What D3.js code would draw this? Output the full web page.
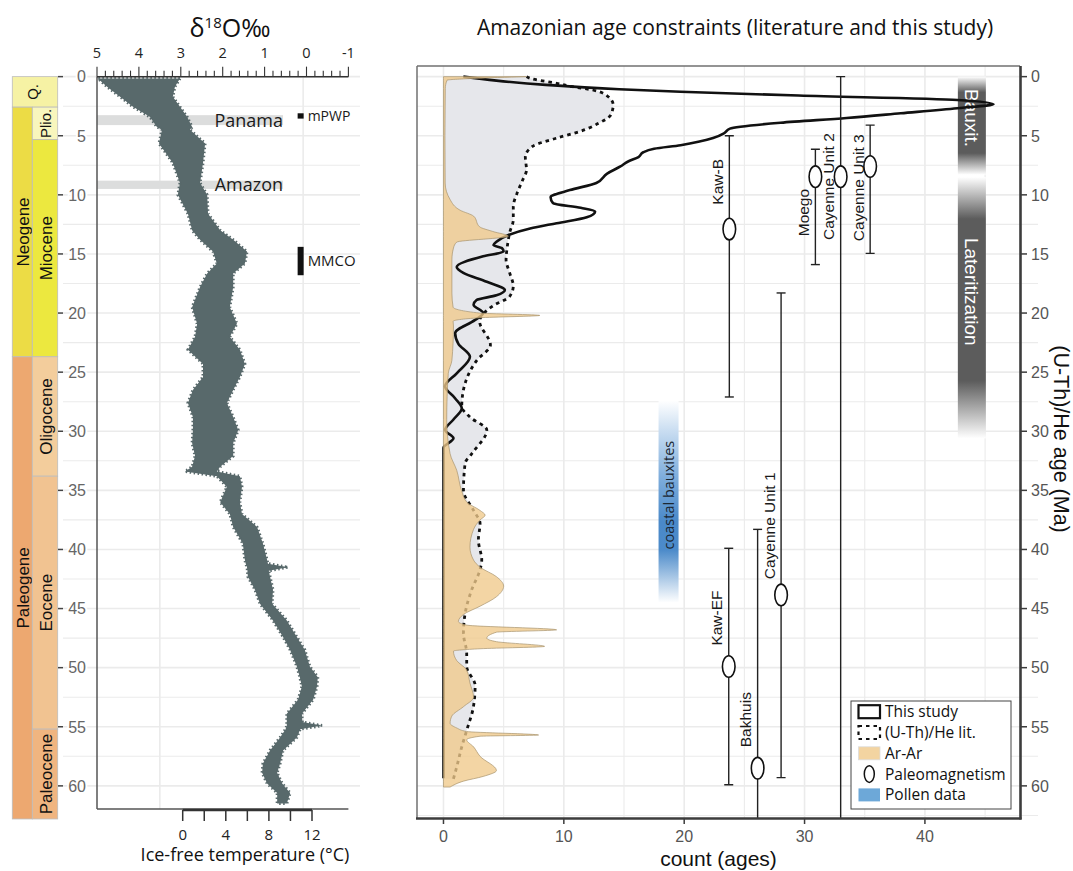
<!DOCTYPE html>
<html>
<head>
<meta charset="utf-8">
<script src="https://cdn.jsdelivr.net/npm/d3@7"></script>
<style>
  body { margin: 0; background: #fff; }
  text { font-family: "Liberation Sans", Arial, sans-serif; }
  .os { font-family: "Open Sans", sans-serif; }
</style>
</head>
<body>
<svg id="chart" width="1073" height="871"></svg>
<script>
// ---- geologic time scale (Ma)
var quatEnd = 2.58;
var periodNames = ["Neogene", "Paleogene"];
var periodStart = [2.58, 23.7];
var periodEnd = [23.7, 62.8];
var epochNames = ["Plio.", "Miocene", "Oligocene", "Eocene", "Paleocene"];
var epochStart = [2.58, 5.33, 23.7, 33.8, 55.2];
var epochEnd = [5.33, 23.7, 33.8, 55.2, 62.8];

// ---- benthic d18O cloud, envelope
var d18oAge = [0.15, 0.86, 1.7, 2.55, 3.4, 4.25, 4.5, 5.65, 7.3, 9.0, 10.0, 11.6, 13.0, 13.8, 14.8, 15.8, 16.65, 17.8, 19.5, 20.9, 22.0, 23.1, 24.3, 25.4, 26.5, 27.6, 28.8, 29.9, 31.0, 32.1, 33.0, 33.4, 33.8, 34.7, 36.0, 37.0, 38.1, 39.5, 40.9, 41.2, 41.5, 41.8, 42.3, 43.4, 44.6, 46.0, 47.4, 48.5, 49.9, 50.8, 51.6, 52.7, 53.9, 54.6, 54.9, 55.2, 55.9, 57.0, 58.1, 58.9, 59.8, 60.6, 61.5];
var d18oHi = [4.98, 4.76, 4.45, 4.14, 3.74, 3.57, 3.45, 3.52, 3.19, 3.02, 3.07, 2.83, 2.73, 2.54, 2.23, 2.14, 2.37, 2.54, 2.73, 2.61, 2.66, 2.83, 2.47, 2.47, 2.71, 2.83, 2.71, 2.71, 2.73, 2.66, 2.73, 2.90, 2.14, 1.90, 2.06, 1.83, 1.75, 1.52, 1.47, 1.45, 1.42, 1.41, 1.40, 1.23, 1.11, 0.80, 0.56, 0.39, 0.23, 0.16, 0.11, 0.20, 0.47, 0.47, 0.47, 0.50, 0.63, 0.87, 1.04, 1.06, 0.94, 0.70, 0.70];
var d18oLo = [3.02, 3.14, 3.19, 3.02, 2.85, 2.73, 2.78, 2.42, 2.47, 2.54, 2.37, 2.35, 2.06, 1.75, 1.42, 1.47, 1.75, 1.75, 1.83, 1.66, 1.83, 1.59, 1.47, 1.59, 1.75, 1.90, 1.75, 1.63, 1.75, 1.75, 2.06, 2.14, 1.59, 1.54, 1.59, 1.54, 1.18, 1.04, 0.94, 0.92, 0.44, 0.90, 0.87, 0.80, 0.82, 0.47, 0.23, 0.04, -0.08, -0.27, -0.25, -0.16, 0.11, 0.10, -0.37, 0.15, 0.23, 0.56, 0.63, 0.70, 0.58, 0.39, 0.47];

// events on the d18O panel
var eventNames = ["Panama", "Amazon"];
var eventStart = [3.26, 8.8];
var eventEnd = [4.1, 9.5];
var climNames = ["mPWP", "MMCO"];
var climStart = [3.1, 14.4];
var climEnd = [3.55, 16.8];

// ---- age densities (count vs age)
var thisStudyAge = [0, 0.34, 0.7, 1.07, 1.28, 1.6, 1.97, 2.33, 2.67, 3.1, 3.5, 3.9, 4.4, 4.8, 5.2, 5.8, 6.1, 6.4, 6.8, 7.2, 7.6, 8.2, 9.0, 9.6, 10.2, 10.7, 11.1, 11.4, 11.9, 12.4, 12.85, 13.4, 13.96, 14.25, 14.5, 14.8, 15.2, 16.1, 16.6, 17.35, 18.05, 18.5, 18.9, 19.3, 20.0, 20.6, 21.7, 22.6, 23.7, 25.1, 26.2, 27.2, 28.05, 29.0, 29.9, 30.6, 31.4, 59.35];
var thisStudyCount = [1.65, 4.4, 8.5, 14.6, 19.7, 29.5, 42.7, 45.7, 42.7, 38, 33.5, 28, 23.8, 23.3, 22.4, 19.7, 17.5, 16.6, 16.2, 15.3, 14.7, 13.6, 12.7, 10.5, 8.9, 9.1, 11.4, 12.6, 11.9, 9.4, 7.2, 5.4, 4.4, 4.15, 4.85, 5.0, 3.3, 1.1, 1.65, 3.6, 5.1, 4.4, 2.75, 2.5, 3.3, 2.6, 0.97, 1.24, 2.2, 1.1, 0.13, 0.96, 1.52, 0.83, 0.13, 0.83, 0, 0];

var uthHeAge = [0, 0.14, 0.56, 0.85, 1.13, 1.55, 2.4, 3.24, 3.94, 4.65, 5.2, 5.9, 6.8, 7.9, 8.7, 9.9, 11.0, 12.1, 13.2, 14.4, 15.5, 16.6, 17.7, 18.6, 19.4, 20.7, 22.7, 24.0, 26.5, 27.9, 28.8, 29.9, 31.9, 32.7, 35.0, 36.7, 37.8, 39.2, 40.9, 41.7, 43.4, 45.4, 47.1, 48.8, 49.9, 51.5, 53.3, 55.3, 56.7, 58.4, 59.4];
var uthHeCount = [6.9, 7.2, 9.4, 10.7, 12.4, 13.5, 14.1, 13.9, 12.9, 11.3, 9.4, 7.4, 6.8, 6.9, 6.6, 6.1, 5.8, 5.8, 5.5, 5.3, 5.2, 5.5, 5.8, 5.5, 4.1, 3.0, 3.9, 2.77, 1.66, 1.52, 2.2, 3.6, 2.35, 1.8, 1.66, 2.5, 3.04, 2.9, 3.18, 3.04, 2.35, 1.8, 1.66, 1.93, 1.93, 2.63, 2.49, 1.93, 1.52, 1.1, 0.83];

var arArAge = [0, 0.15, 0.3, 1, 5, 9.0, 10.4, 11.3, 11.8, 12.7, 13.1, 13.5, 14.0, 14.5, 15.5, 18.3, 19.5, 20.0, 20.2, 20.4, 20.7, 21.1, 24.0, 25.1, 29.0, 31.9, 33.3, 35.0, 36.0, 36.7, 37.1, 37.5, 38.3, 39.8, 40.9, 41.5, 42.3, 43.1, 44.0, 44.8, 45.5, 46.1, 46.4, 46.8, 47.0, 47.5, 47.8, 48.2, 48.4, 48.6, 49.4, 50.2, 51.3, 52.5, 53.3, 54.1, 54.7, 55.1, 55.4, 55.7, 55.8, 56.1, 56.7, 57.5, 58.7, 59.2, 59.6, 60.1];
var arArCount = [6.9, 2.5, 0.3, 0.15, 0.12, 0.14, 0.55, 1.38, 2.5, 3.0, 4.1, 5.4, 1.1, 0.83, 0.7, 0.7, 0.8, 3.0, 8.0, 3.0, 0.8, 0.83, 0.7, 0.4, 0.27, 0.55, 1.1, 1.5, 1.94, 3.04, 3.46, 3.04, 2.5, 2.2, 2.5, 3.04, 4.4, 5.0, 4.4, 3.04, 1.66, 1.24, 1.93, 9.4, 4.4, 3.6, 4.4, 8.4, 3.04, 0.83, 1.1, 1.93, 2.2, 2.5, 1.66, 0.69, 0.55, 1.1, 1.93, 7.9, 3.04, 1.93, 2.5, 3.04, 4.4, 3.3, 1.66, 0.55];

// ---- paleomagnetism ages (Ma) plotted at a count position
var pmNames = ["Kaw-B", "Moego", "Cayenne Unit 2", "Cayenne Unit 3", "Cayenne Unit 1", "Kaw-EF", "Bakhuis"];
var pmCount = [23.75, 30.9, 33.0, 35.45, 28.05, 23.7, 26.1];
var pmAge = [12.9, 8.46, 8.46, 7.6, 43.85, 49.9, 58.5];
var pmMin = [5.0, 6.14, 0, 4.1, 18.3, 39.9, 38.3];
var pmMax = [27.1, 15.9, 70, 14.95, 59.3, 59.9, 70];
var pmLabelAge = [8.9, 11.5, 9.3, 9.4, 38.0, 45.8, 54.4];

// ---- weathering zones and pollen data
var zoneNames = ["Bauxit.", "Lateritization"];
var zoneStart = [0, 8.5];
var zoneEnd = [8.3, 30.6];
var zoneLabelAge = [3.5, 18.2];
var zoneCount = 43.9;
var pollenName = "coastal bauxites";
var pollenStart = 27.4, pollenEnd = 44.5, pollenLabelAge = 35.4, pollenCount = 18.7;

var legendLabels = ["This study", "(U-Th)/He lit.", "Ar-Ar", "Paleomagnetism", "Pollen data"];

// ---------------------------------------------------------------
var svg = d3.select("#chart");
svg.append("rect").attr("width", 1073).attr("height", 871).attr("fill", "#fff");
var defs = svg.append("defs");

var yAge = d3.scaleLinear().domain([-0.9, 62.76]).range([66, 818.5]);
var xCount = d3.scaleLinear().domain([-2.2, 47.9]).range([417, 1020]);
var xD18O = d3.scaleLinear().domain([5, -1]).range([97, 348.4]);
var xTemp = d3.scaleLinear().domain([0, 12]).range([182.7, 312]);

defs.append("clipPath").attr("id", "clipR").append("rect")
  .attr("x", 417).attr("y", 66).attr("width", 603).attr("height", 752.5);
defs.append("clipPath").attr("id", "clipL").append("rect")
  .attr("x", 97).attr("y", 66).attr("width", 270).attr("height", 743);

var zg = defs.append("linearGradient").attr("id", "zoneGrad")
  .attr("x1", 0).attr("x2", 0).attr("y1", 0).attr("y2", 1);
[[0, "#ffffff"], [0.16, "#5c5c5c"], [0.78, "#5c5c5c"], [1, "#ffffff"]].forEach(function(s){
  zg.append("stop").attr("offset", s[0]).attr("stop-color", s[1]);
});
var bg = defs.append("linearGradient").attr("id", "pollenGrad")
  .attr("x1", 0).attr("x2", 0).attr("y1", 0).attr("y2", 1);
[[0, "#ffffff"], [0.15, "#c9ddf1"], [0.38, "#7eaddc"], [0.6, "#4a89c9"], [0.74, "#4c8bca"], [1, "#ffffff"]].forEach(function(s){
  bg.append("stop").attr("offset", s[0]).attr("stop-color", s[1]);
});

// ======================= LEFT PANEL ============================
var left = svg.append("g");

// horizontal grid
d3.range(0, 61, 2.5).forEach(function(a){
  left.append("line").attr("x1", 63).attr("x2", 360)
    .attr("y1", yAge(a)).attr("y2", yAge(a))
    .attr("stroke", "#ebebeb").attr("stroke-width", a % 5 === 0 ? 1.6 : 1.1);
});
[3.5, 0.08].forEach(function(d){
  left.append("line").attr("x1", xD18O(d)).attr("x2", xD18O(d))
    .attr("y1", yAge(0)).attr("y2", 809)
    .attr("stroke", "#ebebeb").attr("stroke-width", 1.6);
});

// geologic column
var colours = {
  "Q.": "#f6f2a4", "Neogene": "#ecdc45", "Paleogene": "#eda870",
  "Plio.": "#f8f6bd", "Miocene": "#ece83f", "Oligocene": "#f3cd9c",
  "Eocene": "#f1c391", "Paleocene": "#f0b580"
};
var geo = left.append("g");
function geoBox(name, a0, a1, x0, x1){
  geo.append("rect").attr("x", x0).attr("y", yAge(a0))
    .attr("width", x1 - x0).attr("height", yAge(a1) - yAge(a0))
    .attr("fill", colours[name]).attr("stroke", "#bdbdbd").attr("stroke-width", 0.8);
  var cy = (yAge(a0) + yAge(a1)) / 2, cx = (x0 + x1) / 2;
  if (name === "Q.") cx = 32;
  geo.append("text").attr("transform", "translate(" + (cx + 1) + "," + cy + ") rotate(-90)")
    .attr("text-anchor", "middle").attr("dy", "0.35em")
    .attr("font-size", name.length < 6 ? 15 : 17).attr("fill", "#111").text(name);
}
geoBox("Q.", 0, quatEnd, 12.3, 57.7);
periodNames.forEach(function(n, i){ geoBox(n, periodStart[i], periodEnd[i], 12.3, 32.3); });
epochNames.forEach(function(n, i){ geoBox(n, epochStart[i], epochEnd[i], 32.3, 57.7); });

// y labels + ticks
d3.range(0, 61, 5).forEach(function(a){
  left.append("line").attr("x1", 58).attr("x2", 63).attr("y1", yAge(a)).attr("y2", yAge(a))
    .attr("stroke", "#444").attr("stroke-width", 1.5);
  left.append("text").attr("x", 86).attr("y", yAge(a)).attr("dy", "0.36em")
    .attr("text-anchor", "end").attr("font-size", 16).attr("fill", "#666")
    .attr("stroke", "#fff").attr("stroke-width", 4).attr("paint-order", "stroke")
    .text(a);
});

// event bars
var lp = left.append("g").attr("clip-path", "url(#clipL)");
eventNames.forEach(function(n, i){
  lp.append("rect").attr("x", xD18O(5)).attr("y", yAge(eventStart[i]))
    .attr("width", xD18O(0.56) - xD18O(5)).attr("height", yAge(eventEnd[i]) - yAge(eventStart[i]))
    .attr("fill", "#dcdddd");
});

// d18O cloud
var cloud = d18oAge.map(function(a, i){ return {age: a, hi: d18oHi[i], lo: d18oLo[i]}; });
var cloudArea = d3.area()
  .y(function(d){ return yAge(d.age); })
  .x0(function(d){ return xD18O(d.hi); })
  .x1(function(d){ return xD18O(d.lo); })
  .curve(d3.curveLinear);
lp.append("path").datum(cloud).attr("d", cloudArea)
  .attr("fill", "#58696b").attr("stroke", "#58696b")
  .attr("stroke-width", 3).attr("stroke-dasharray", "1.5 2.5");

eventNames.forEach(function(n, i){
  left.append("text").attr("class", "os").attr("x", xD18O(0.56))
    .attr("y", (yAge(eventStart[i]) + yAge(eventEnd[i])) / 2).attr("dy", "0.36em")
    .attr("text-anchor", "end").attr("font-size", 18).attr("fill", "#1a1a1a").text(n);
});
climNames.forEach(function(n, i){
  left.append("rect").attr("x", xD18O(0.14) - 3).attr("y", yAge(climStart[i]))
    .attr("width", 6).attr("height", yAge(climEnd[i]) - yAge(climStart[i])).attr("fill", "#111");
  left.append("text").attr("class", "os").attr("x", xD18O(0.14) + 7)
    .attr("y", (yAge(climStart[i]) + yAge(climEnd[i])) / 2).attr("dy", "0.36em")
    .attr("font-size", i === 0 ? 14 : 15).attr("fill", "#1a1a1a").text(n);
});

// axes of left panel
left.append("line").attr("x1", 97).attr("x2", 97).attr("y1", yAge(0)).attr("y2", 809)
  .attr("stroke", "#555").attr("stroke-width", 1.5);
left.append("line").attr("x1", 97).attr("x2", 348.4).attr("y1", 809).attr("y2", 809)
  .attr("stroke", "#555").attr("stroke-width", 1.5);
left.append("line").attr("x1", xTemp(0)).attr("x2", xTemp(12)).attr("y1", 810).attr("y2", 810)
  .attr("stroke", "#333").attr("stroke-width", 2.5);
d3.range(0, 13, 2).forEach(function(t){
  left.append("line").attr("x1", xTemp(t)).attr("x2", xTemp(t)).attr("y1", 810).attr("y2", 821)
    .attr("stroke", "#333").attr("stroke-width", 1.5);
  if (t % 4 === 0) left.append("text").attr("class", "os").attr("x", xTemp(t)).attr("y", 840)
    .attr("text-anchor", "middle").attr("font-size", 15).attr("fill", "#222").text(t);
});
left.append("text").attr("class", "os").attr("x", 245).attr("y", 861)
  .attr("text-anchor", "middle").attr("font-size", 18).attr("fill", "#111")
  .text("Ice-free temperature (\u00b0C)");

// top d18O axis
var topY = yAge(0);
left.append("line").attr("x1", xD18O(5)).attr("x2", xD18O(-1)).attr("y1", topY).attr("y2", topY)
  .attr("stroke", "#333").attr("stroke-width", 1.5);
d3.range(0, 31).forEach(function(k){
  var d = 5 - k * 0.2, major = k % 5 === 0;
  left.append("line").attr("x1", xD18O(d)).attr("x2", xD18O(d))
    .attr("y1", topY).attr("y2", topY - (major ? 10 : 6))
    .attr("stroke", "#333").attr("stroke-width", 1.1);
  if (major) left.append("text").attr("class", "os").attr("x", xD18O(d)).attr("y", 58)
    .attr("text-anchor", "middle").attr("font-size", 14.5).attr("fill", "#222")
    .text(Math.round(d));
});
var t18 = left.append("text").attr("class", "os").attr("x", 230).attr("y", 37)
  .attr("text-anchor", "middle").attr("font-size", 25).attr("fill", "#111");
t18.append("tspan").text("\u03b4");
t18.append("tspan").attr("font-size", 15).attr("dy", -9).text("18");
t18.append("tspan").attr("dy", 9).text("O\u2030");

// ======================= RIGHT PANEL ===========================
var right = svg.append("g");
d3.range(0, 61, 5).forEach(function(a){
  right.append("line").attr("x1", 417).attr("x2", 1020).attr("y1", yAge(a)).attr("y2", yAge(a))
    .attr("stroke", "#ebebeb").attr("stroke-width", 1.6);
});
d3.range(2.5, 63, 5).forEach(function(a){
  right.append("line").attr("x1", 417).attr("x2", 1038).attr("y1", yAge(a)).attr("y2", yAge(a))
    .attr("stroke", "#ebebeb").attr("stroke-width", 1.1);
});
d3.range(0, 46, 5).forEach(function(c){
  right.append("line").attr("x1", xCount(c)).attr("x2", xCount(c)).attr("y1", 66).attr("y2", 818.5)
    .attr("stroke", "#ebebeb").attr("stroke-width", c % 10 === 0 ? 1.6 : 1.1);
});

var rp = right.append("g").attr("clip-path", "url(#clipR)");

// weathering zones
zoneNames.forEach(function(n, i){
  rp.append("rect").attr("x", xCount(zoneCount) - 14).attr("y", yAge(zoneStart[i]))
    .attr("width", 28).attr("height", yAge(zoneEnd[i]) - yAge(zoneStart[i]))
    .attr("fill", "url(#zoneGrad)");
  rp.append("text").attr("transform", "translate(" + xCount(zoneCount) + "," + yAge(zoneLabelAge[i]) + ") rotate(90)")
    .attr("text-anchor", "middle").attr("dy", "0.35em").attr("font-size", 19)
    .attr("fill", "#fff").text(n);
});
rp.append("rect").attr("x", xCount(pollenCount) - 10).attr("y", yAge(pollenStart))
  .attr("width", 20).attr("height", yAge(pollenEnd) - yAge(pollenStart))
  .attr("fill", "url(#pollenGrad)");
rp.append("text").attr("class", "os")
  .attr("transform", "translate(" + xCount(pollenCount) + "," + yAge(pollenLabelAge) + ") rotate(-90)")
  .attr("text-anchor", "middle").attr("dy", "0.35em").attr("font-size", 14.5)
  .attr("fill", "#1b2733").text(pollenName);

// densities
function pts(ages, counts){ return ages.map(function(a, i){ return {age: a, n: counts[i]}; }); }
var densArea = d3.area()
  .y(function(d){ return yAge(d.age); })
  .x0(xCount(0))
  .x1(function(d){ return xCount(d.n); })
  .curve(d3.curveMonotoneY);
var densLine = d3.line()
  .y(function(d){ return yAge(d.age); })
  .x(function(d){ return xCount(d.n); })
  .curve(d3.curveMonotoneY);

rp.append("path").datum(pts(uthHeAge, uthHeCount)).attr("d", densArea)
  .attr("fill", "#e6e7eb");
rp.append("path").datum(pts(thisStudyAge, thisStudyCount)).attr("d", densLine)
  .attr("fill", "none").attr("stroke", "#111").attr("stroke-width", 2.6);
rp.append("path").datum(pts(uthHeAge, uthHeCount)).attr("d", densLine)
  .attr("fill", "none").attr("stroke", "#111").attr("stroke-width", 2.8)
  .attr("stroke-dasharray", "3.5 4");
rp.append("path").datum(pts(arArAge, arArCount)).attr("d", densArea)
  .attr("fill", "#f0c98a").attr("fill-opacity", 0.78)
  .attr("stroke", "#a8936f").attr("stroke-width", 0.7);

// paleomagnetism error bars
pmNames.forEach(function(n, i){
  var x = xCount(pmCount[i]);
  rp.append("line").attr("x1", x).attr("x2", x).attr("y1", yAge(pmMin[i])).attr("y2", yAge(pmMax[i]))
    .attr("stroke", "#222").attr("stroke-width", 1.4);
  [pmMin[i], pmMax[i]].forEach(function(a){
    rp.append("line").attr("x1", x - 4.5).attr("x2", x + 4.5).attr("y1", yAge(a)).attr("y2", yAge(a))
      .attr("stroke", "#222").attr("stroke-width", 1.4);
  });
  rp.append("ellipse").attr("cx", x).attr("cy", yAge(pmAge[i])).attr("rx", 6.3).attr("ry", 10.8)
    .attr("fill", "#fff").attr("stroke", "#111").attr("stroke-width", 1.6);
  rp.append("text").attr("transform", "translate(" + (x - 12) + "," + yAge(pmLabelAge[i]) + ") rotate(-90)")
    .attr("text-anchor", "middle").attr("dy", "0.35em").attr("font-size", 15.5)
    .attr("fill", "#1a1a1a").text(n);
});

// frame and axes
right.append("line").attr("x1", 417).attr("x2", 417).attr("y1", 66).attr("y2", 818.5)
  .attr("stroke", "#707070").attr("stroke-width", 1.5);
right.append("line").attr("x1", 417).attr("x2", 1020).attr("y1", 66).attr("y2", 66)
  .attr("stroke", "#707070").attr("stroke-width", 1.5);
right.append("line").attr("x1", 416).attr("x2", 1021.5).attr("y1", 818.5).attr("y2", 818.5)
  .attr("stroke", "#3c3c3c").attr("stroke-width", 2.6);
right.append("line").attr("x1", 1020.5).attr("x2", 1020.5).attr("y1", 66).attr("y2", 819.5)
  .attr("stroke", "#3c3c3c").attr("stroke-width", 2.6);

d3.range(0, 61, 5).forEach(function(a){
  right.append("line").attr("x1", 1021).attr("x2", 1027).attr("y1", yAge(a)).attr("y2", yAge(a))
    .attr("stroke", "#3c3c3c").attr("stroke-width", 1.5);
  right.append("text").attr("x", 1031).attr("y", yAge(a)).attr("dy", "0.36em")
    .attr("font-size", 16).attr("fill", "#555").text(a);
});
d3.range(0, 41, 10).forEach(function(c){
  right.append("line").attr("x1", xCount(c)).attr("x2", xCount(c)).attr("y1", 819).attr("y2", 824)
    .attr("stroke", "#3c3c3c").attr("stroke-width", 1.5);
  right.append("text").attr("x", xCount(c)).attr("y", 842)
    .attr("text-anchor", "middle").attr("font-size", 16).attr("fill", "#555").text(c);
});
right.append("text").attr("x", 718.5).attr("y", 866).attr("text-anchor", "middle")
  .attr("font-size", 21).attr("fill", "#111").text("count (ages)");
right.append("text").attr("transform", "translate(1062,439) rotate(90)")
  .attr("text-anchor", "middle").attr("dy", "0.35em")
  .attr("font-size", 21.5).attr("fill", "#111").text("(U-Th)/He age (Ma)");
svg.append("text").attr("class", "os").attr("x", 735).attr("y", 35)
  .attr("text-anchor", "middle").attr("font-size", 21).attr("fill", "#111")
  .text("Amazonian age constraints (literature and this study)");

// legend
var lg = svg.append("g");
lg.append("rect").attr("x", 851).attr("y", 701).attr("width", 160).attr("height", 108)
  .attr("fill", "#fff").attr("stroke", "#444").attr("stroke-width", 1);
legendLabels.forEach(function(n, i){
  var cy = 711.7 + i * 20.8;
  if (i === 0 || i === 1) {
    lg.append("rect").attr("x", 858.5).attr("y", cy - 6.5).attr("width", 21.5).attr("height", 13)
      .attr("fill", "#fff").attr("stroke", "#111").attr("stroke-width", 2.2)
      .attr("stroke-dasharray", i === 1 ? "3.5 4" : null);
  } else if (i === 2) {
    lg.append("rect").attr("x", 858.5).attr("y", cy - 6.5).attr("width", 21.5).attr("height", 13)
      .attr("fill", "#f3d4a1").attr("stroke", "#ddd").attr("stroke-width", 0.8);
  } else if (i === 3) {
    lg.append("ellipse").attr("cx", 869.3).attr("cy", cy).attr("rx", 5).attr("ry", 8.3)
      .attr("fill", "#fff").attr("stroke", "#111").attr("stroke-width", 1.5);
  } else {
    lg.append("rect").attr("x", 858.5).attr("y", cy - 6.5).attr("width", 21.5).attr("height", 13)
      .attr("fill", "#6da8d8");
  }
  lg.append("text").attr("class", "os").attr("x", 885).attr("y", cy).attr("dy", "0.36em")
    .attr("font-size", 15.5).attr("fill", "#111").text(n);
});
</script>
</body>
</html>
